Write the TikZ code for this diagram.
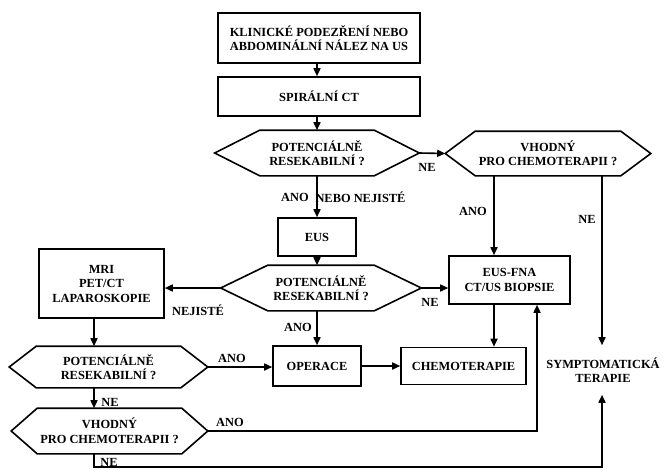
\documentclass[tikz,border=0pt]{standalone}
\usepackage{fontspec}
\setmainfont{Liberation Serif}
\usetikzlibrary{arrows.meta}

% hexagon drawn round an invisible node
\newcommand{\hexagon}[2]{%
  \draw (#1.west) -- ([xshift=#2]#1.north west) -- ([xshift=-#2]#1.north east)
    -- (#1.east) -- ([xshift=-#2]#1.south east) -- ([xshift=#2]#1.south west) -- cycle;}

\begin{document}
\begin{tikzpicture}
    [x=1pt, y=-1pt, line width=1.6pt,
      every node/.style={font=\fontsize{12.4}{14.5}\selectfont\bfseries, align=center},
      box/.style={draw, inner sep=0pt},
      hexnode/.style={inner sep=0pt},
      arr/.style={-{Triangle[length=8pt,width=7pt]}},
     ]
    \useasboundingbox (0,0) rectangle (666,469);

    % columns for the vertical lines
    \coordinate (colM) at (317,0);
    \coordinate (colL) at (94,0);
    \coordinate (colB) at (494,0);
    \coordinate (colR) at (537,0);
    \coordinate (colS) at (602,0);
    \coordinate (bot) at (0,467);

    \node[box, minimum width=202pt, minimum height=50pt] (start) at (319,38)
      {KLINICKÉ PODEZŘENÍ NEBO\\ABDOMINÁLNÍ NÁLEZ NA US};
    \node[box, minimum width=202pt, minimum height=39pt] (spiral) at (319,96.5) {SPIRÁLNÍ CT};
    \node[hexnode, minimum width=203pt, minimum height=44pt] (resA) at (317,153)
      {POTENCIÁLNĚ\\RESEKABILNÍ ?};
    \node[hexnode, minimum width=204pt, minimum height=43pt] (chemoA) at (548,153.5)
      {VHODNÝ\\PRO CHEMOTERAPII ?};
    \node[box, minimum width=78pt, minimum height=38pt] (eus) at (317,237) {EUS};
    \node[hexnode, minimum width=199pt, minimum height=44pt] (resB) at (321,288)
      {POTENCIÁLNĚ\\RESEKABILNÍ ?};
    \node[box, minimum width=125pt, minimum height=69pt] (mri) at (101.5,283.5)
      {MRI\\PET/CT\\LAPAROSKOPIE};
    \node[box, minimum width=121pt, minimum height=48pt] (fna) at (509.5,280)
      {EUS-FNA\\CT/US BIOPSIE};
    \node[box, minimum width=88pt, minimum height=40pt] (oper) at (317,366) {OPERACE};
    \node[box, minimum width=125pt, minimum height=37pt] (chemo) at (463.5,366) {CHEMOTERAPIE};
    \node[minimum height=48pt] (sympt) at (603,370) {SYMPTOMATICKÁ\\TERAPIE};
    \node[hexnode, minimum width=197pt, minimum height=40pt] (resC) at (108.5,367)
      {POTENCIÁLNĚ\\RESEKABILNÍ ?};
    \node[hexnode, minimum width=195pt, minimum height=44pt] (chemoB) at (109.5,431)
      {VHODNÝ\\PRO CHEMOTERAPII ?};

    \hexagon{resA}{45pt}
    \hexagon{chemoA}{30pt}
    \hexagon{resB}{47pt}
    \hexagon{resC}{27pt}
    \hexagon{chemoB}{26pt}

    % connectors
    \draw[arr] (start.south -| colM) -- (spiral.north -| colM);
    \draw[arr] (spiral.south -| colM) -- (resA.north -| colM);
    \draw[arr] (resA.east) -- (chemoA.west);
    \draw[arr] (resA.south -| colM) -- (eus.north -| colM);
    \draw[arr] (chemoA.south -| colB) -- (fna.north -| colB);
    \draw[arr] (chemoA.south -| colS) -- (sympt.north -| colS);
    \draw[arr] (eus.south -| colM) -- (resB.north -| colM);
    \draw[arr] (resB.west) -- (resB.west -| mri.east);
    \draw[arr] (resB.east) -- (resB.east -| fna.west);
    \draw[arr] (resB.south -| colM) -- (oper.north -| colM);
    \draw[arr] (fna.south -| colB) -- (chemo.north -| colB);
    \draw[arr] (oper.east) -- (oper.east -| chemo.west);
    \draw[arr] (mri.south -| colL) -- (resC.north -| colL);
    \draw[arr] (resC.east) -- (resC.east -| oper.west);
    \draw[arr] (resC.south -| colL) -- (chemoB.north -| colL);
    \draw[arr] (chemoB.east) -- (chemoB.east -| colR) -- (fna.south -| colR);
    \draw[arr] (chemoB.south -| colL) -- (bot -| colL) -- (bot -| colS) -- (sympt.south -| colS);

    % labels
    \node (neA) at (427,167) {NE};
    \node (anoA) at (295,197) {ANO};
    \node (nejA) at (360.5,197) {NEBO NEJISTÉ};
    \node (anoB) at (473,211) {ANO};
    \node (neB) at (587,219) {NE};
    \node (nejB) at (198,310) {NEJISTÉ};
    \node (neC) at (430,302) {NE};
    \node (anoC) at (298,327) {ANO};
    \node (anoD) at (232,358) {ANO};
    \node (neD) at (110,402) {NE};
    \node (anoE) at (230,422) {ANO};
    \node (neE) at (109,462) {NE};
\end{tikzpicture}
\end{document}
